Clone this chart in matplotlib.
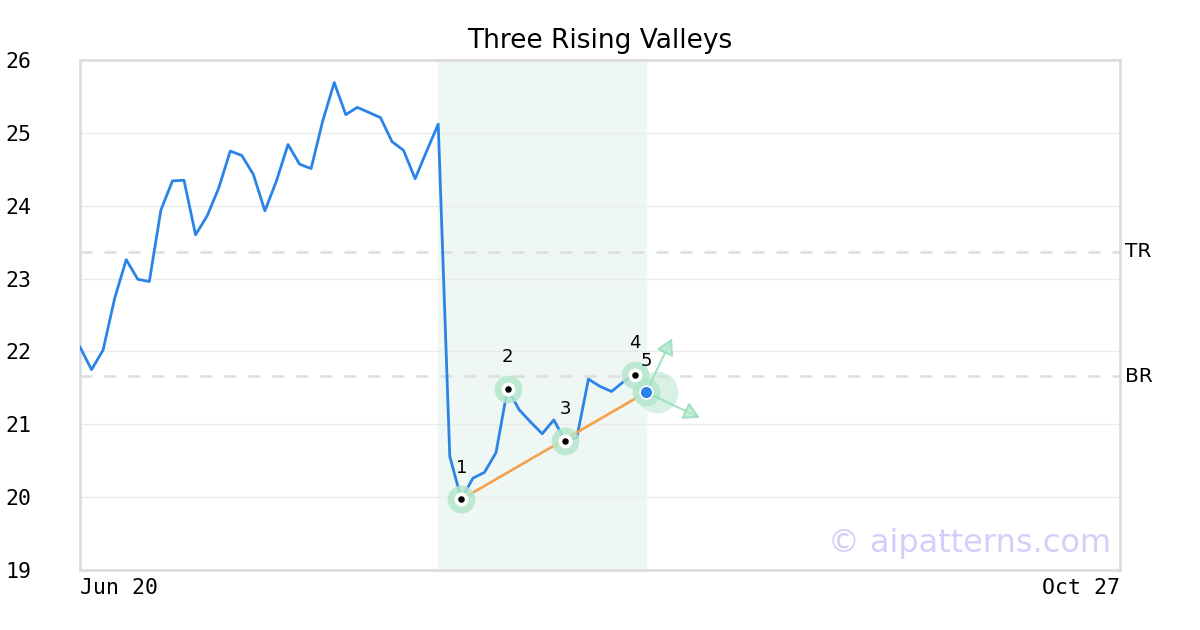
import matplotlib
matplotlib.use("Agg")
import matplotlib.pyplot as plt

# closing prices by trading-day index (0 = Jun 20)
price_idx = list(range(50))
prices = [22.06, 21.75, 22.02, 22.73, 23.26, 22.99, 22.96, 23.94, 24.34, 24.35,
          23.60, 23.86, 24.24, 24.75, 24.69, 24.43, 23.93, 24.34, 24.84, 24.57,
          24.51, 25.16, 25.69, 25.25, 25.35, 25.28, 25.21, 24.88, 24.76, 24.37,
          24.75, 25.12, 20.56, 19.97, 20.26, 20.34, 20.61, 21.49, 21.20, 21.03,
          20.87, 21.06, 20.77, 20.82, 21.62, 21.52, 21.45, 21.58, 21.68, 21.44]

pivot_idx = [33, 37, 42, 48]
pivot_val = [19.97, 21.49, 20.77, 21.68]
pivot_lbl = ["1", "2", "3", "4"]
last_idx, last_val = 49, 21.44

top_res = 23.37     # TR
bot_res = 21.66     # BR
zone = (31, 49)
x_end = 90
x_ticklabels = ["Jun 20", "Oct 27"]

fig = plt.figure(figsize=(12, 6.3), dpi=100)
ax = fig.add_axes([80/1200, 60/630, 1040/1200, 510/630])

ax.axvspan(zone[0], zone[1], color="#eef7f3", zorder=0)
for y in range(20, 26):
    ax.axhline(y, color="#ebebeb", lw=1, zorder=1)

ax.axhline(top_res, color="#dddddd", lw=1.8, dashes=(4.8, 4.8), zorder=1)
ax.axhline(bot_res, color="#dddddd", lw=1.8, dashes=(4.8, 4.8), zorder=1)

ax.plot(price_idx, prices, color="#2a84e8", lw=2, zorder=3)

# trend line through the valleys
ax.plot([pivot_idx[0], last_idx], [pivot_val[0], last_val], color="#f5a04a", lw=1.9, zorder=4)

ax.scatter([49.9], [last_val], s=900, color="#bfe9d3", alpha=0.6, lw=0, zorder=4)
ax.scatter(pivot_idx + [last_idx], pivot_val + [last_val], s=400, color="#b5e6cc",
           alpha=0.85, lw=0, zorder=5)
ax.scatter(pivot_idx, pivot_val, s=100, color="white", lw=0, zorder=6)
ax.scatter(pivot_idx, pivot_val, s=22, color="black", lw=0, zorder=7)
ax.scatter([last_idx], [last_val], s=85, color="#2a84e8", edgecolor="white", lw=1.2, zorder=9)

# projection arrows
for tip in [(51.23, 22.18), (53.65, 21.09)]:
    ax.annotate("", xy=tip, xytext=(last_idx, last_val),
                arrowprops=dict(arrowstyle="-|>,head_length=0.8,head_width=0.45",
                                mutation_scale=12, facecolor="#b6eacf",
                                edgecolor="#95ddba", lw=1.6, alpha=0.8,
                                shrinkA=0, shrinkB=0),
                zorder=8)

for xi, yi, lb in zip(pivot_idx, pivot_val, pivot_lbl):
    ax.text(xi, yi + 0.31, lb, ha="center", va="bottom", fontsize=13, zorder=8)
ax.text(last_idx, last_val + 0.31, "5", ha="center", va="bottom", fontsize=13, zorder=8)

ax.text(1.005, (top_res - 19) / 7, "TR", transform=ax.transAxes, fontsize=14.5,
        va="center", ha="left")
ax.text(1.005, (bot_res - 19) / 7, "BR", transform=ax.transAxes, fontsize=14.5,
        va="center", ha="left")

ax.text(0.991, 0.052, "© aipatterns.com", transform=ax.transAxes, fontsize=23,
        color="#d3cffa", ha="right", va="center", zorder=8)

ax.set_xlim(0, x_end)
ax.set_ylim(19, 26)
ax.set_yticks(range(19, 27))
ax.set_yticklabels([str(v) for v in range(19, 27)], family="DejaVu Sans Mono",
                   fontsize=15.5, ha="left")
ax.set_xticks([0, x_end])
xl = ax.set_xticklabels(x_ticklabels, family="DejaVu Sans Mono", fontsize=15.5)
xl[0].set_ha("left")
xl[1].set_ha("right")
ax.tick_params(axis="y", length=0, pad=54)
ax.tick_params(axis="x", length=0, pad=6)

for s in ax.spines.values():
    s.set_color("#dddddd")
    s.set_linewidth(2)

ax.set_title("Three Rising Valleys", fontsize=19, pad=9)

fig.savefig("out.png", dpi=100)
